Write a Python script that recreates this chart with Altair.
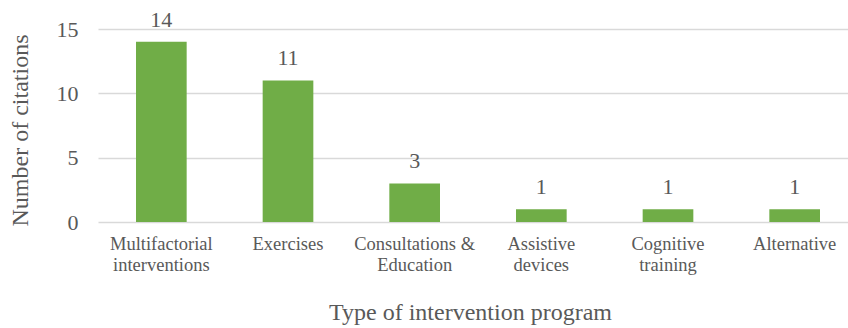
import altair as alt
import pandas as pd

categories = ["Multifactorial\ninterventions", "Exercises", "Consultations &\nEducation",
              "Assistive\ndevices", "Cognitive\ntraining", "Alternative"]
citations = [14, 11, 3, 1, 1, 1]
y_ticks = [0, 5, 10, 15]

df = pd.DataFrame({"category": categories, "citations": citations})

FONT = "Liberation Serif"
GRAY = "#595959"

x_enc = alt.X(
    "category:N",
    sort=categories,
    title="Type of intervention program",
    scale=alt.Scale(range=[0, 760], paddingInner=0.6, paddingOuter=0.3),
    axis=alt.Axis(
        labelAngle=0,
        labelExpr="split(datum.label, '\\n')",
        labelFontSize=18.5,
        labelLineHeight=21,
        labelColor=GRAY,
        labelFont=FONT,
        labelPadding=12,
        ticks=False,
        domain=False,
        titleFontSize=24,
        titleFont=FONT,
        titleColor=GRAY,
        titleFontWeight="normal",
        titlePadding=27,
        titleX=372,
        labelLimit=300,
    ),
)

y_enc = alt.Y(
    "citations:Q",
    title="Number of citations",
    scale=alt.Scale(domain=[0, 15], nice=False),
    axis=alt.Axis(
        values=y_ticks,
        grid=True,
        gridColor="#D9D9D9",
        gridWidth=1.3,
        domain=False,
        ticks=False,
        labelFontSize=22,
        labelFont=FONT,
        labelColor=GRAY,
        labelPadding=20,
        titleFontSize=24,
        titleFont=FONT,
        titleColor=GRAY,
        titleFontWeight="normal",
        titlePadding=24,
        titleY=101,
    ),
)

bars = alt.Chart(df).mark_bar(color="#70AD47").encode(x=x_enc, y=y_enc)
labels = alt.Chart(df).mark_text(
    font=FONT, fontSize=22, color=GRAY, baseline="alphabetic", dy=-15
).encode(x=alt.X("category:N", sort=categories), y="citations:Q", text="citations:Q")

chart = (
    alt.layer(bars, labels)
    .properties(
        width=750,
        height=193,
        padding={"left": 98, "top": 29, "right": 0, "bottom": 106},
        autosize=alt.AutoSizeParams(type="none"),
        background="white",
    )
    .configure_view(stroke=None)
)

chart.save("out.html", embed_options={"renderer": "svg", "actions": False})
